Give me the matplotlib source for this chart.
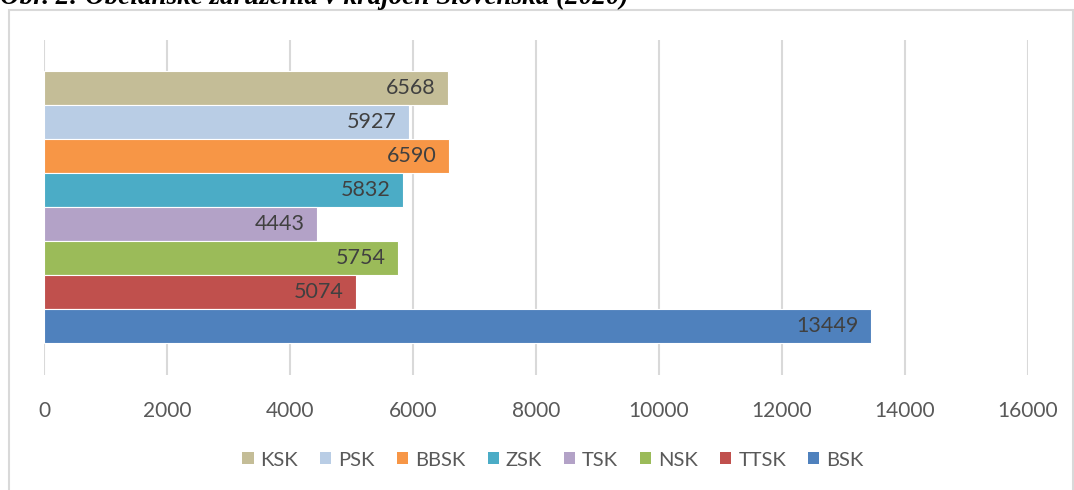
import matplotlib
matplotlib.use("Agg")
import matplotlib.pyplot as plt
from matplotlib.patches import Rectangle, Patch

regions = ["KSK", "PSK", "BBSK", "ZSK", "TSK", "NSK", "TTSK", "BSK"]
values = [6568, 5927, 6590, 5832, 4443, 5754, 5074, 13449]
colors = ["#C4BD97", "#B9CDE5", "#F79646", "#4BACC6", "#B3A2C7", "#9BBB59", "#C0504D", "#4F81BD"]
xticks = [0, 2000, 4000, 6000, 8000, 10000, 12000, 14000, 16000]
title = "Obr. 2: Občianske združenia v krajoch Slovenska (2020)"

plt.rcParams['font.family'] = ['Lato', 'DejaVu Sans']
W, H = 1074, 490
fig = plt.figure(figsize=(W/100, H/100), dpi=100)

# outer chart border
fig.patches.append(Rectangle((9/W, -0.01), (1073-9)/W, 1 - 10/H + 0.01, transform=fig.transFigure,
                             fill=False, edgecolor="#D9D9D9", linewidth=1.5))
# caption (cut off at the top, as in the source)
fig.text(0.0, 1 - 4/H, title, family='Liberation Serif', style='italic', weight='bold',
         fontsize=19.5, va='baseline', ha='left')

ax = fig.add_axes([44/W, 1 - 375/H, (1028-44)/W, (375-40)/H])
ypos = list(range(len(regions)))
ax.barh(ypos, values, height=1.0, color=colors, edgecolor='white', linewidth=0.8, zorder=3)
for y, v in zip(ypos, values):
    ax.text(v - 200, y, f"{v}", ha='right', va='center', fontsize=15.5, color='#404040', zorder=4)

ax.set_xlim(0, 16000)
ax.set_ylim(7.5 + 0.94, -0.5 - 0.91)
ax.set_xticks(xticks)
ax.set_xticklabels([str(t) for t in xticks])
ax.tick_params(axis='x', length=0, pad=19, labelsize=15, labelcolor='#595959')
ax.set_yticks([])
for s in ax.spines.values():
    s.set_visible(False)
ax.grid(axis='x', color='#D9D9D9', linewidth=1.5, zorder=0)
ax.set_axisbelow(True)

handles = [Patch(facecolor=c, edgecolor='none') for c in colors]
fig.legend(handles, regions, loc='center', bbox_to_anchor=(0.515, 1 - 460/H), ncol=8,
           frameon=False, fontsize=14.5, labelcolor='#595959', handlelength=0.55, handleheight=0.55,
           handletextpad=0.35, columnspacing=1.1)

fig.savefig("out.png", dpi=100)
